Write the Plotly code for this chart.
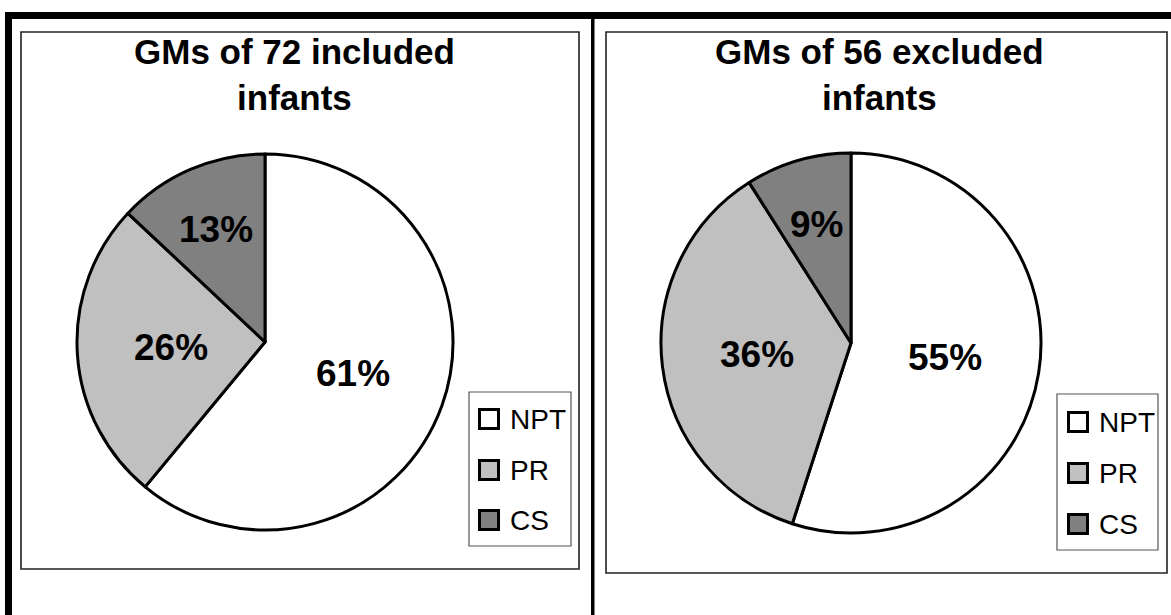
import math
import plotly.graph_objects as go

# ---- data -------------------------------------------------------------
categories = ["NPT", "PR", "CS"]
included_pct = [61, 26, 13]
excluded_pct = [55, 36, 9]
panel_titles = ["GMs of 72 included<br>infants", "GMs of 56 excluded<br>infants"]
slice_colors = ["#FFFFFF", "#C0C0C0", "#808080"]

# ---- canvas -----------------------------------------------------------
W, H = 1171, 615
FONT = "Liberation Sans, Arial, sans-serif"


def px(x):
    return x / W


def py(y):
    return 1 - y / H


# panel geometry in pixels: pie centre, radius, frame, legend frame, title centre
panels = [
    dict(values=included_pct, title=panel_titles[0], cx=265, cy=342, r=188,
         frame=(21, 32, 579, 569), legend=(469, 392, 571, 546), title_x=294,
         sw_x=478, sw_y=[419, 470, 520]),
    dict(values=excluded_pct, title=panel_titles[1], cx=851, cy=343, r=190,
         frame=(606, 32, 1167, 573), legend=(1057, 394, 1158, 550), title_x=879,
         sw_x=1067, sw_y=[422, 473, 524]),
]

fig = go.Figure()
shapes = []
annotations = []

for p in panels:
    cx, cy, r = p["cx"], p["cy"], p["r"]
    fig.add_trace(go.Pie(
        labels=categories,
        values=p["values"],
        sort=False,
        direction="clockwise",
        rotation=0,
        marker=dict(colors=slice_colors, line=dict(color="#000000", width=3)),
        textinfo="none",
        hoverinfo="label+percent",
        showlegend=False,
        domain=dict(x=[px(cx - r), px(cx + r)], y=[py(cy + r), py(cy - r)]),
    ))

    # percentage labels placed along each slice's bisector
    total = sum(p["values"])
    start = 0.0
    for v in p["values"]:
        share = v / total
        mid = (start + share / 2) * 2 * math.pi
        start += share
        frac = 0.5 if share > 0.2 else 0.65
        lx = cx + frac * r * math.sin(mid)
        ly = cy - frac * r * math.cos(mid)
        annotations.append(dict(
            x=px(lx), y=py(ly), xref="paper", yref="paper",
            text=f"<b>{round(share * 100)}%</b>", showarrow=False,
            xanchor="center", yanchor="middle",
            font=dict(family=FONT, size=37, color="#000000"),
        ))

    # chart title
    annotations.append(dict(
        x=px(p["title_x"]), y=py(74), xref="paper", yref="paper",
        text=f"<b>{p['title']}</b>", showarrow=False,
        xanchor="center", yanchor="middle", align="center",
        font=dict(family=FONT, size=35, color="#000000"),
    ))

    # chart frame
    x0, y0, x1, y1 = p["frame"]
    shapes.append(dict(type="rect", xref="paper", yref="paper",
                       x0=px(x0), x1=px(x1), y0=py(y1), y1=py(y0),
                       line=dict(color="#222222", width=1.6), fillcolor="rgba(0,0,0,0)"))

    # legend frame, swatches and labels
    lx0, ly0, lx1, ly1 = p["legend"]
    shapes.append(dict(type="rect", xref="paper", yref="paper",
                       x0=px(lx0), x1=px(lx1), y0=py(ly1), y1=py(ly0),
                       line=dict(color="#555555", width=1.2), fillcolor="rgba(0,0,0,0)"))
    for name, col, sy in zip(categories, slice_colors, p["sw_y"]):
        sx = p["sw_x"]
        shapes.append(dict(type="rect", xref="paper", yref="paper",
                           x0=px(sx + 1.5), x1=px(sx + 20.5),
                           y0=py(sy + 9.5), y1=py(sy - 9.5),
                           line=dict(color="#000000", width=3), fillcolor=col))
        annotations.append(dict(
            x=px(sx + 30), y=py(sy), xref="paper", yref="paper",
            text=name, showarrow=False, xanchor="left", yanchor="middle",
            font=dict(family=FONT, size=28, color="#000000"),
        ))

# heavy outer rules and the divider between the two charts
for (x0, y0, x1, y1) in [(5, 12, W, 19), (5, 12, 12, H), (591, 12, 594.5, H)]:
    shapes.append(dict(type="rect", xref="paper", yref="paper",
                       x0=px(x0), x1=px(x1), y0=py(y1), y1=py(y0),
                       line=dict(width=0), fillcolor="#000000"))

fig.update_layout(
    width=W, height=H,
    margin=dict(l=0, r=0, t=0, b=0),
    paper_bgcolor="#FFFFFF",
    plot_bgcolor="#FFFFFF",
    shapes=shapes,
    annotations=annotations,
    showlegend=False,
)

fig.write_html("out.html")
